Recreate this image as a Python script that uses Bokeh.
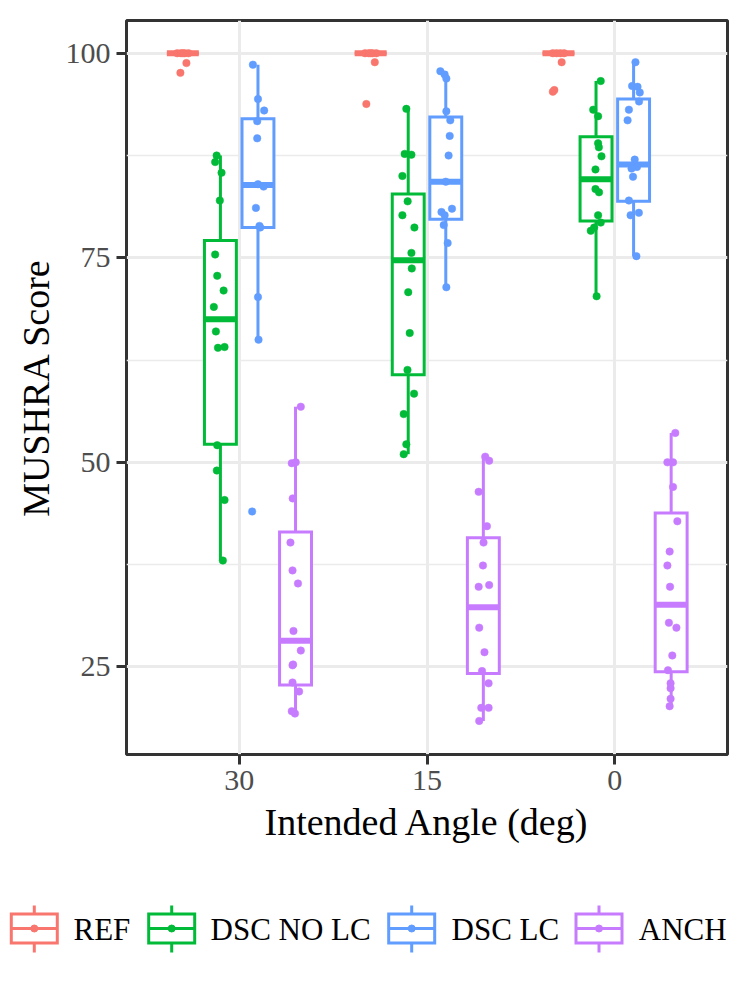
from bokeh.plotting import figure
from bokeh.models import ColumnDataSource, FixedTicker, Range1d
from bokeh.layouts import column
from bokeh.embed import file_html
from bokeh.resources import INLINE
from bokeh.core.properties import value

# ---------------- data ----------------
angles = ["30", "15", "0"]
conditions = ["REF", "DSC NO LC", "DSC LC", "ANCH"]
colors = ["#F8766D", "#00BA38", "#619CFF", "#C77CFF"]

# box statistics: one row per condition, values for angles 30, 15, 0
whisker_low = [[100, 100, 100], [38.0, 51.0, 70.3], [65.0, 71.4, 75.2], [19.3, 18.4, 20.2]]
q1 = [[100, 100, 100], [52.2, 60.7, 79.5], [78.7, 79.7, 81.9], [22.8, 24.2, 24.4]]
median = [[100, 100, 100], [67.5, 74.7, 84.6], [83.9, 84.3, 86.4], [28.2, 32.3, 32.6]]
q3 = [[100, 100, 100], [77.1, 82.8, 89.8], [92.0, 92.2, 94.4], [41.5, 40.8, 43.8]]
whisker_high = [[100, 100, 100], [87.5, 93.2, 96.6], [98.6, 97.8, 98.9], [56.8, 50.7, 53.6]]

# individual listener scores (jittered points)
ref_30 = [100, 100, 100, 100, 100, 98.8, 97.6]
ref_30_jitter = [-0.03, -0.01, 0.01, 0.03, 0.0, 0.019, -0.013]
ref_15 = [100, 100, 100, 100, 100, 98.9, 93.8]
ref_15_jitter = [-0.03, -0.01, 0.01, 0.03, 0.0, 0.022, -0.023]
ref_0 = [100, 100, 100, 100, 98.9, 95.5, 95.3]
ref_0_jitter = [-0.03, -0.01, 0.01, 0.03, 0.017, -0.022, -0.030]

nolc_30 = [87.5, 86.7, 85.4, 82.0, 75.4, 72.8, 71.0, 69.0, 66.0, 64.0, 64.1, 52.1, 49.0, 45.4, 38.0]
nolc_30_jitter = [-0.020, -0.028, 0.006, -0.003, -0.028, -0.017, 0.017, -0.035, -0.024, -0.013, 0.022, -0.017, -0.019, 0.022, 0.013]
nolc_15 = [93.2, 87.7, 87.6, 85.0, 81.9, 80.2, 78.7, 75.6, 73.7, 70.8, 65.8, 61.3, 58.4, 55.9, 52.2, 51.0]
nolc_15_jitter = [-0.010, -0.019, 0.017, -0.031, -0.003, -0.031, 0.033, 0.017, 0.019, 0.0, 0.008, -0.004, 0.031, -0.024, -0.010, -0.024]
nolc_0 = [96.6, 93.1, 92.3, 89.0, 88.5, 87.4, 85.8, 83.4, 83.0, 80.2, 79.3, 78.7, 78.3, 70.3]
nolc_0_jitter = [0.025, -0.015, 0.011, 0.011, 0.015, 0.029, -0.003, -0.003, 0.016, 0.011, 0.025, -0.010, -0.028, 0.003]

lc_30 = [98.6, 94.4, 93.0, 91.7, 89.6, 84.0, 83.7, 81.1, 78.9, 78.7, 70.2, 65.0, 44.0]
lc_30_jitter = [-0.027, 0.0, 0.033, -0.004, -0.004, 0.0, 0.030, -0.011, 0.008, 0.012, 0.0, 0.003, -0.031]
lc_15 = [97.8, 97.4, 96.9, 92.9, 91.8, 89.9, 87.5, 84.3, 81.0, 80.6, 80.2, 79.0, 76.8, 71.4]
lc_15_jitter = [-0.029, -0.006, 0.003, 0.003, 0.024, 0.021, 0.015, 0.0, 0.033, -0.023, -0.006, -0.011, 0.010, 0.003]
lc_0 = [98.9, 96.0, 95.9, 95.2, 94.1, 93.1, 91.8, 87.0, 86.1, 85.9, 84.9, 82.0, 80.5, 80.2, 75.2]
lc_0_jitter = [0.010, -0.008, 0.021, 0.033, 0.029, -0.025, -0.032, 0.006, 0.018, -0.011, -0.003, -0.025, 0.028, -0.016, 0.015]

anch_30 = [56.8, 49.9, 50.0, 45.6, 40.2, 36.8, 35.2, 29.4, 27.0, 25.2, 25.3, 23.1, 22.0, 19.6, 19.3]
anch_30_jitter = [0.028, -0.020, 0.001, -0.015, -0.027, -0.016, 0.013, -0.011, 0.028, -0.016, -0.013, -0.016, 0.019, -0.020, -0.003]
anch_15 = [50.7, 50.2, 46.4, 42.2, 40.2, 37.4, 34.8, 35.0, 29.8, 26.8, 24.5, 23.0, 20.0, 20.0, 18.4]
anch_15_jitter = [0.010, 0.031, -0.025, 0.019, 0.001, -0.002, -0.025, 0.031, -0.022, 0.006, -0.007, 0.028, -0.011, 0.028, -0.022]
anch_0 = [53.6, 50.0, 50.0, 47.0, 42.8, 39.1, 37.4, 34.8, 30.4, 29.8, 26.4, 24.6, 23.0, 22.4, 21.1, 20.2]
anch_0_jitter = [0.022, -0.020, 0.010, 0.010, 0.033, -0.008, -0.020, -0.006, -0.012, 0.028, 0.006, -0.017, -0.003, -0.003, -0.003, -0.008]

scores = [[ref_30, ref_15, ref_0], [nolc_30, nolc_15, nolc_0], [lc_30, lc_15, lc_0], [anch_30, anch_15, anch_0]]
jitters = [[ref_30_jitter, ref_15_jitter, ref_0_jitter], [nolc_30_jitter, nolc_15_jitter, nolc_0_jitter],
           [lc_30_jitter, lc_15_jitter, lc_0_jitter], [anch_30_jitter, anch_15_jitter, anch_0_jitter]]

y_ticks = [25, 50, 75, 100]
y_minor = [37.5, 62.5, 87.5]

# ---------------- styling / layout ----------------
FONT = "Liberation Serif"
dodge = [-0.3, -0.1, 0.1, 0.3]
box_w = 0.17

p = figure(width=747, height=868, x_range=Range1d(0.4, 3.6), y_range=Range1d(14.3, 104.0),
           output_backend="svg", toolbar_location=None,
           min_border_left=126, min_border_right=20, min_border_top=20, min_border_bottom=114,
           background_fill_color="white", border_fill_color="white")

for ci, cond in enumerate(conditions):
    xs = [ai + 1 + dodge[ci] for ai in range(len(angles))]
    src = ColumnDataSource(dict(
        x=xs,
        left=[x - box_w / 2 for x in xs],
        right=[x + box_w / 2 for x in xs],
        lo=whisker_low[ci], q1=q1[ci], med=median[ci], q3=q3[ci], hi=whisker_high[ci],
    ))
    col = colors[ci]
    p.segment(x0="x", y0="q3", x1="x", y1="hi", source=src, line_color=col, line_width=3)
    p.segment(x0="x", y0="q1", x1="x", y1="lo", source=src, line_color=col, line_width=3)
    p.quad(left="left", right="right", top="q3", bottom="q1", source=src,
           fill_color="white", line_color=col, line_width=3, line_join="miter")
    p.segment(x0="left", y0="med", x1="right", y1="med", source=src, line_color=col, line_width=6)

for ci, cond in enumerate(conditions):
    px, py = [], []
    for ai in range(len(angles)):
        for s, j in zip(scores[ci][ai], jitters[ci][ai]):
            px.append(ai + 1 + dodge[ci] + j)
            py.append(s)
    p.scatter(x=px, y=py, size=7.5, fill_color=colors[ci], line_color=colors[ci], line_width=0.5)

p.xaxis.ticker = FixedTicker(ticks=[1, 2, 3])
p.xaxis.major_label_overrides = {i + 1: a for i, a in enumerate(angles)}
p.yaxis.ticker = FixedTicker(ticks=y_ticks, minor_ticks=y_minor)

for ax in (p.xaxis, p.yaxis):
    ax.axis_line_color = None
    ax.major_tick_line_color = "#333333"
    ax.major_tick_line_width = 3
    ax.major_tick_out = 10
    ax.major_tick_in = 0
    ax.minor_tick_out = 0
    ax.minor_tick_in = 0
    ax.major_label_text_font = FONT
    ax.major_label_text_font_size = "30px"
    ax.major_label_text_color = "#4D4D4D"
    ax.axis_label_text_font = FONT
    ax.axis_label_text_font_size = "38px"
    ax.axis_label_text_font_style = "normal"
    ax.axis_label_text_color = "black"

p.xaxis.axis_label = "Intended Angle (deg)"
p.yaxis.axis_label = "MUSHRA Score"
p.xaxis.major_label_standoff = 6
p.yaxis.major_label_standoff = 6
p.xaxis.axis_label_standoff = 8
p.yaxis.axis_label_standoff = 6

p.xgrid.grid_line_color = "#EBEBEB"
p.xgrid.grid_line_width = 3
p.ygrid.grid_line_color = "#EBEBEB"
p.ygrid.grid_line_width = 3
p.ygrid.minor_grid_line_color = "#EBEBEB"
p.ygrid.minor_grid_line_width = 1.5

p.outline_line_color = "#333333"
p.outline_line_width = 3

# ---------------- legend (separate strip below) ----------------
key_left = [9.3, 146.7, 386.7, 574.0]
label_left = [73.0, 210.0, 451.0, 638.3]
key_w = 46.0

lf = figure(width=747, height=127, x_range=Range1d(0, 747), y_range=Range1d(127, 0),
            output_backend="svg", toolbar_location=None, min_border=0,
            x_axis_location=None, y_axis_location=None, outline_line_color=None,
            background_fill_color="white", border_fill_color="white")
lf.frame_align = False
lf.xgrid.visible = False
lf.ygrid.visible = False

for ci, cond in enumerate(conditions):
    col = colors[ci]
    l = key_left[ci] + 1.5
    r = l + key_w
    c = (l + r) / 2
    lf.quad(left=[l], right=[r], top=[45.5], bottom=[74.5], fill_color="white",
            line_color=col, line_width=3, line_join="miter")
    lf.segment(x0=[c, c], y0=[37, 74.5], x1=[c, c], y1=[45.5, 84], line_color=col, line_width=3)
    lf.segment(x0=[l], y0=[60], x1=[r], y1=[60], line_color=col, line_width=3)
    lf.scatter(x=[c], y=[60], size=7, fill_color=col, line_color=col)
    lf.text(x=[label_left[ci]], y=[61], text=[cond], text_font=value(FONT),
            text_font_size="31px", text_color="black", text_baseline="middle", text_align="left")

layout = column(p, lf)
open("out.html", "w").write(file_html(layout, INLINE))
